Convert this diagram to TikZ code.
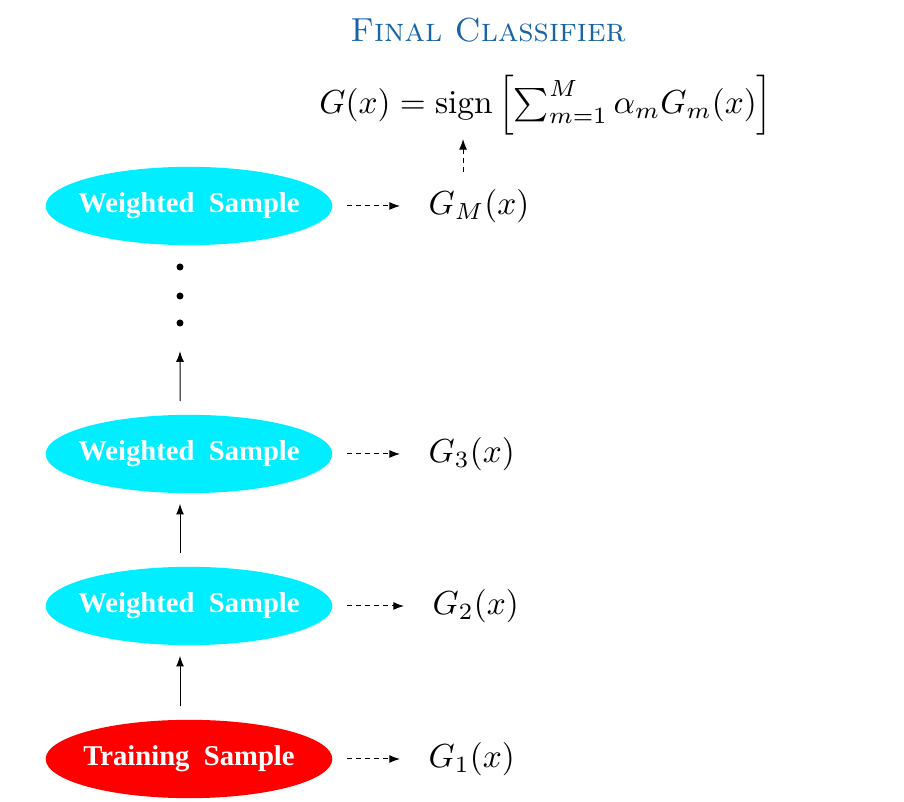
\documentclass[tikz,border=0pt]{standalone}
\usepackage{fontspec}
\newfontfamily\tms{Liberation Serif}
\usetikzlibrary{shapes.geometric,arrows.meta}
\definecolor{titleblue}{RGB}{25,100,165}
\definecolor{sampcyan}{RGB}{0,238,255}
\definecolor{sampred}{RGB}{255,0,0}
\begin{document}
\begin{tikzpicture}[x=0.3pt,y=-0.3pt,
  samp/.style={ellipse, fill=sampcyan, text=white, minimum width=86pt, minimum height=23.5pt, inner xsep=-5pt, inner ysep=0pt, font=\tms\bfseries\fontsize{8.6}{10}\selectfont},
  train/.style={samp, fill=sampred},
  lab/.style={inner sep=0pt, font=\fontsize{10}{12}\selectfont},
  flow/.style={-{Latex[length=3.2pt,width=2.4pt]}, line width=0.3pt},
  dflow/.style={flow, dash pattern=on 1.5pt off 1.2pt},
  dotn/.style={circle, fill=black, inner sep=0pt, minimum size=2.1pt}]
\useasboundingbox (0,0) rectangle (904,802);
\node[font=\fontsize{10}{12}\selectfont, text=titleblue, inner sep=1pt] (title) at (488,30) {\textsc{Final Classifier}};
\node[lab] (f) at (546,105) {$G(x) = \mathrm{sign}\left[\sum_{m=1}^M \alpha_m G_m(x)\right]$};
\node[train] (t) at (189,759) {Training\hspace{0.5em}Sample};
\node[samp] (w2) at (189,606) {Weighted\hspace{0.5em}Sample};
\node[samp] (w3) at (189,454) {Weighted\hspace{0.5em}Sample};
\node[samp] (wm) at (189,206) {Weighted\hspace{0.5em}Sample};
\node[lab, anchor=west] (g1) at (428,759) {$G_1(x)$};
\node[lab, anchor=west] (g2) at (432,606) {$G_2(x)$};
\node[lab, anchor=west] (g3) at (428,454) {$G_3(x)$};
\node[lab, anchor=west] (gm) at (428,206) {$G_M(x)$};
\node[dotn] (d1) at (180,267) {};
\node[dotn] (d2) at (180,296) {};
\node[dotn] (d3) at (180,323) {};
\foreach \a/\b in {t/g1,w2/g2,w3/g3,wm/gm}
  \draw[dflow, shorten <=4.2pt, shorten >=8.4pt] (\a.east) -- (\b.west);
\draw[flow, shorten <=3.9pt, shorten >=3pt] ([xshift=-2.7pt]t.north) -- ([xshift=-2.7pt]w2.south);
\draw[flow, shorten <=3.9pt, shorten >=3pt] ([xshift=-2.7pt]w2.north) -- ([xshift=-2.7pt]w3.south);
\draw[flow, shorten <=3.9pt, shorten >=7.2pt] ([xshift=-2.7pt]w3.north) -- (d3.south);
\draw[dflow, shorten <=5pt, shorten >=1pt] ([xshift=-4.8pt]gm.north) -- ([xshift=-4.8pt]gm.north |- f.south);
\end{tikzpicture}
\end{document}
